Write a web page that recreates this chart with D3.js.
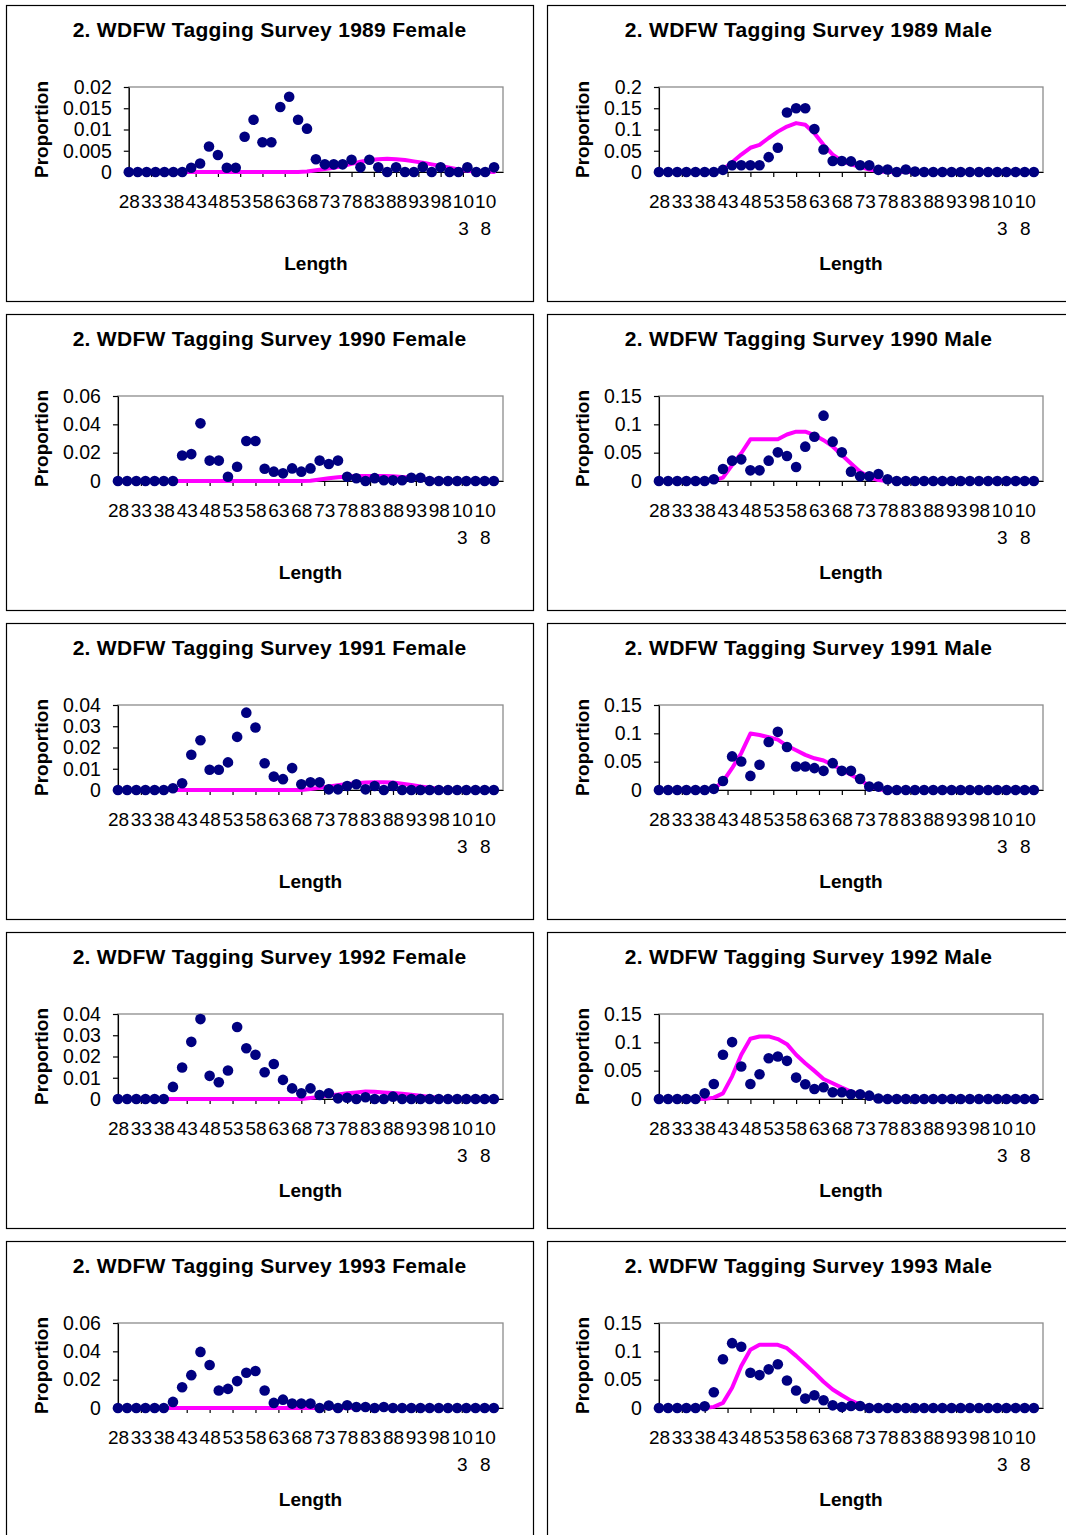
<!DOCTYPE html>
<html>
<head>
<meta charset="utf-8">
<script src="https://cdn.jsdelivr.net/npm/d3@7"></script>
<style>
  body { margin: 0; background: #fff; }
  svg { display: block; }
  text { font-family: "Liberation Sans", Arial, Helvetica, sans-serif; fill: #000; }
</style>
</head>
<body>
<svg id="chart" width="1066" height="1535"></svg>
<script>
// Length classes (cm) at which proportions were recorded
const lengths = [28,30,32,34,36,38,40,42,44,46,48,50,52,54,56,58,60,62,64,66,68,70,72,74,76,78,80,82,84,86,88,90,92,94,96,98,100,102,104,106,108,110];

// Category labels shown along the length axis
const lengthTickLabels = ["28","33","38","43","48","53","58","63","68","73","78","83","88","93","98","103","108"];

// Proportion axis labels
const yTicksF1989 = ["0","0.005","0.01","0.015","0.02"];
const yTicksM1989 = ["0","0.05","0.1","0.15","0.2"];
const yTicksF1990 = ["0","0.02","0.04","0.06"];
const yTicksF1991 = ["0","0.01","0.02","0.03","0.04"];
const yTicksMale = ["0","0.05","0.1","0.15"];

// Observed proportions (dots) and model fits (line)
const obsF1989 = [0,0,0,0,0,0,0,0.001,0.002,0.006,0.004,0.001,0.001,0.0083,0.0123,0.007,0.007,0.0153,0.0177,0.0123,0.0102,0.003,0.0018,0.0018,0.0018,0.0029,0.0011,0.0029,0.0011,0,0.0011,0,0,0.0012,0,0.0011,0,0,0.0011,0,0,0.0011];
const fitF1989 = [0,0,0,0,0,0,0,0,0,0,0,0,0,0,0,0,0,0,0,0,0.0001,0.0004,0.0007,0.001,0.0014,0.0019,0.0024,0.0028,0.003,0.0031,0.003,0.0028,0.0025,0.0022,0.0018,0.0014,0.001,0.0006,0.0003,0.0002,0.0001,0];

const obsM1989 = [0,0,0,0,0,0,0,0.005,0.016,0.016,0.016,0.016,0.035,0.057,0.14,0.15,0.15,0.101,0.053,0.026,0.026,0.025,0.016,0.016,0.005,0.006,0,0.006,0.001,0,0,0,0,0,0,0,0,0,0,0,0,0];
const fitM1989 = [0,0,0,0,0,0,0.001,0.006,0.023,0.041,0.057,0.064,0.08,0.095,0.107,0.115,0.111,0.091,0.064,0.041,0.026,0.018,0.012,0.006,0.002,0,0,0,0,0,0,0,0,0,0,0,0,0,0,0,0,0];

const obsF1990 = [0,0,0,0,0,0,0,0.018,0.019,0.0407,0.0144,0.0144,0.003,0.0101,0.0282,0.0282,0.0087,0.0066,0.0054,0.0089,0.0066,0.0089,0.0144,0.012,0.0144,0.003,0.0019,0,0.002,0.0005,0.0005,0.0005,0.0023,0.0023,0,0,0,0,0,0,0,0];
const fitF1990 = [0,0,0,0,0,0,0,0,0,0,0,0,0,0,0,0,0,0,0,0,0,0.0002,0.001,0.0019,0.0027,0.0032,0.0035,0.0036,0.0036,0.0035,0.0033,0.0029,0.0023,0.0017,0.0011,0.0006,0.0003,0.0001,0,0,0,0];

const obsM1990 = [0,0,0,0,0,0,0.003,0.0212,0.0359,0.0382,0.0188,0.0188,0.0359,0.0506,0.0441,0.0247,0.0606,0.0782,0.1153,0.0694,0.0506,0.0165,0.0082,0.0082,0.0124,0.003,0,0,0,0,0,0,0,0,0,0,0,0,0,0,0,0];
const fitM1990 = [0,0,0,0,0,0,0.001,0.006,0.028,0.049,0.0735,0.0735,0.0735,0.0735,0.082,0.087,0.087,0.081,0.072,0.061,0.046,0.031,0.0165,0.0065,0.0018,0,0,0,0,0,0,0,0,0,0,0,0,0,0,0,0,0];

const obsF1991 = [0,0,0,0,0,0,0.0008,0.0032,0.0166,0.0234,0.0095,0.0095,0.013,0.025,0.0364,0.0294,0.0126,0.0063,0.0051,0.0103,0.0027,0.0036,0.0036,0.0003,0.0003,0.0019,0.0027,0.0003,0.0019,0,0.0019,0,0,0,0,0,0,0,0,0,0,0];
const fitF1991 = [0,0,0,0,0,0,0,0,0,0,0,0,0,0,0,0,0,0,0,0,0,0.0005,0.001,0.0016,0.0022,0.0028,0.0032,0.0035,0.0036,0.0036,0.0035,0.003,0.0024,0.0017,0.0011,0.0006,0.0003,0.0001,0,0,0,0];

const obsM1991 = [0,0,0,0,0,0,0.002,0.016,0.0593,0.0504,0.0249,0.0445,0.0848,0.1026,0.0759,0.0415,0.0415,0.0386,0.0338,0.0474,0.0338,0.0338,0.0196,0.006,0.006,0,0,0,0,0,0,0,0,0,0,0,0,0,0,0,0,0];
const fitM1991 = [0,0,0,0,0,0,0.002,0.015,0.0385,0.065,0.0996,0.097,0.093,0.089,0.078,0.07,0.062,0.056,0.052,0.044,0.0356,0.0267,0.0178,0.007,0.001,0,0,0,0,0,0,0,0,0,0,0,0,0,0,0,0,0];

const obsF1992 = [0,0,0,0,0,0,0.0057,0.0148,0.0269,0.0376,0.0109,0.0079,0.0134,0.0339,0.0239,0.0208,0.0126,0.0165,0.009,0.005,0.0027,0.005,0.0019,0.0027,0.0003,0.0006,0,0.0008,0,0,0.0011,0,0,0,0,0,0,0,0,0,0,0];
const fitF1992 = [0,0,0,0,0,0,0,0,0,0,0,0,0,0,0,0,0,0,0,0,0,0.0005,0.001,0.0016,0.0021,0.0027,0.0031,0.0035,0.0034,0.0031,0.0028,0.0025,0.002,0.0015,0.001,0.0006,0.0003,0.0001,0,0,0,0];

const obsM1992 = [0,0,0,0,0,0.01,0.0266,0.078,0.1004,0.0573,0.0266,0.0437,0.072,0.075,0.0673,0.0378,0.026,0.0177,0.0207,0.0118,0.0118,0.0083,0.0083,0.0059,0.001,0,0,0,0,0,0,0,0,0,0,0,0,0,0,0,0,0];
const fitM1992 = [0,0,0,0,0,0,0.0024,0.01,0.04,0.078,0.1063,0.1104,0.1104,0.1057,0.0968,0.078,0.0632,0.0496,0.0354,0.0277,0.02,0.013,0.0083,0.0041,0.0012,0,0,0,0,0,0,0,0,0,0,0,0,0,0,0,0,0];

const obsF1993 = [0,0,0,0,0,0,0.0043,0.0147,0.0232,0.0396,0.0304,0.0123,0.0135,0.019,0.0249,0.0261,0.0123,0.0036,0.0059,0.0031,0.0031,0.0031,0,0.0017,0,0.0019,0.0007,0.0007,0,0.0007,0,0,0,0,0,0,0,0,0,0,0,0];
const fitF1993 = [0,0,0,0,0,0,0,0,0,0,0,0,0,0,0,0,0,0,0,0,0,0,0,0,0,0,0,0,0,0,0,0,0,0,0,0,0,0,0,0,0,0];

const obsM1993 = [0,0,0,0,0,0.003,0.0279,0.086,0.1144,0.108,0.0623,0.0581,0.0682,0.0771,0.0486,0.0308,0.0166,0.0225,0.0136,0.0047,0.0018,0.0036,0.0036,0,0,0,0,0,0,0,0,0,0,0,0,0,0,0,0,0,0,0];
const fitM1993 = [0,0,0,0,0,0,0.002,0.009,0.0356,0.0741,0.1026,0.1115,0.1115,0.1115,0.1056,0.092,0.0771,0.0623,0.0463,0.0326,0.0225,0.013,0.0059,0.0012,0,0,0,0,0,0,0,0,0,0,0,0,0,0,0,0,0,0];

const panels = [
  { title: "2. WDFW Tagging Survey 1989 Female", obs: obsF1989, fit: fitF1989, yTicks: yTicksF1989, row: 0, col: 0 },
  { title: "2. WDFW Tagging Survey 1989 Male",   obs: obsM1989, fit: fitM1989, yTicks: yTicksM1989, row: 0, col: 1 },
  { title: "2. WDFW Tagging Survey 1990 Female", obs: obsF1990, fit: fitF1990, yTicks: yTicksF1990, row: 1, col: 0 },
  { title: "2. WDFW Tagging Survey 1990 Male",   obs: obsM1990, fit: fitM1990, yTicks: yTicksMale,  row: 1, col: 1 },
  { title: "2. WDFW Tagging Survey 1991 Female", obs: obsF1991, fit: fitF1991, yTicks: yTicksF1991, row: 2, col: 0 },
  { title: "2. WDFW Tagging Survey 1991 Male",   obs: obsM1991, fit: fitM1991, yTicks: yTicksMale,  row: 2, col: 1 },
  { title: "2. WDFW Tagging Survey 1992 Female", obs: obsF1992, fit: fitF1992, yTicks: yTicksF1991, row: 3, col: 0 },
  { title: "2. WDFW Tagging Survey 1992 Male",   obs: obsM1992, fit: fitM1992, yTicks: yTicksMale,  row: 3, col: 1 },
  { title: "2. WDFW Tagging Survey 1993 Female", obs: obsF1993, fit: fitF1993, yTicks: yTicksF1990, row: 4, col: 0 },
  { title: "2. WDFW Tagging Survey 1993 Male",   obs: obsM1993, fit: fitM1993, yTicks: yTicksMale,  row: 4, col: 1 }
];

// Layout of the panel grid
const colX = [6, 547];
const colW = [527, 523];
const rowTop = 5, rowPitch = 309, panelH = 296;
const plotTopOff = 82, plotBottomOff = 167;
const plotRightOff = [497, 496];
const xTickFont = 19;
const yTickFont = 19.5;

const svg = d3.select("#chart");

// Helper to measure text width at a given font size
const measurer = svg.append("text").attr("visibility", "hidden");
function textWidth(s, size) {
  measurer.attr("font-size", size).text(s);
  return measurer.node().getComputedTextLength();
}

panels.forEach(p => {
  const px = colX[p.col], py = rowTop + p.row * rowPitch;
  const pw = colW[p.col];
  const g = svg.append("g");

  // panel frame
  g.append("rect")
    .attr("x", px + 0.5).attr("y", py + 0.5)
    .attr("width", pw).attr("height", panelH)
    .attr("fill", "#fff").attr("stroke", "#000").attr("stroke-width", 1.2);

  // plot area bounds: left edge depends on the widest proportion label
  const maxLabelW = d3.max(p.yTicks, t => textWidth(t, yTickFont));
  const left = px + 57 + maxLabelW + 17;
  const right = px + plotRightOff[p.col];
  const top = py + plotTopOff, bottom = py + plotBottomOff;

  const x = d3.scaleLinear().domain([28, 112]).range([left, right]);
  const yVals = p.yTicks.map(Number);
  const y = d3.scaleLinear().domain([0, d3.max(yVals)]).range([bottom, top]);

  // title
  g.append("text")
    .attr("x", px + pw / 2).attr("y", py + 24)
    .attr("text-anchor", "middle").attr("dominant-baseline", "central")
    .attr("font-size", 21).attr("font-weight", "bold").attr("letter-spacing", 0.3)
    .text(p.title);

  // plot border (top & right in grey)
  g.append("rect")
    .attr("x", left).attr("y", top)
    .attr("width", right - left).attr("height", bottom - top)
    .attr("fill", "none").attr("stroke", "#8c8c8c").attr("stroke-width", 1.3);

  // y axis
  const yAxis = d3.axisLeft(y)
    .tickValues(yVals)
    .tickFormat((d, i) => p.yTicks[i])
    .tickSize(5).tickSizeOuter(0).tickPadding(12);
  const yg = g.append("g").attr("transform", `translate(${left},0)`).call(yAxis);
  yg.selectAll("text").attr("font-size", yTickFont).attr("font-family", null).attr("fill", "#000");
  yg.selectAll("line, path").attr("stroke", "#000").attr("stroke-width", 1.2);

  // x axis
  const xVals = lengthTickLabels.map(Number);
  const spacing = x(33) - x(28);
  const xAxis = d3.axisBottom(x)
    .tickValues(xVals)
    .tickFormat("")
    .tickSize(5).tickSizeOuter(0);
  const xg = g.append("g").attr("transform", `translate(0,${bottom})`).call(xAxis);
  xg.selectAll("line, path").attr("stroke", "#000").attr("stroke-width", 1.2);

  // category labels, wrapped onto a second line when wider than their slot
  xg.selectAll(".tick").each(function (d, i) {
    const label = lengthTickLabels[i];
    const t = d3.select(this).append("text")
      .attr("font-size", xTickFont).attr("text-anchor", "middle")
      .attr("y", 36).attr("fill", "#000");
    if (textWidth(label, xTickFont) > spacing + 0.5) {
      t.append("tspan").attr("x", 0).text(label.slice(0, 2));
      t.append("tspan").attr("x", 0).attr("dy", 27).text(label.slice(2));
    } else {
      t.text(label);
    }
  });

  // axis titles
  g.append("text")
    .attr("x", (left + right) / 2).attr("y", py + 258)
    .attr("text-anchor", "middle").attr("dominant-baseline", "central")
    .attr("font-size", 19).attr("font-weight", "bold")
    .text("Length");
  g.append("text")
    .attr("transform", `translate(${px + 35},${(top + bottom) / 2}) rotate(-90)`)
    .attr("text-anchor", "middle").attr("dominant-baseline", "central")
    .attr("font-size", 19).attr("font-weight", "bold")
    .text("Proportion");

  // fitted line
  const line = d3.line()
    .x((d, i) => x(lengths[i]))
    .y(d => y(d));
  g.append("path")
    .datum(p.fit)
    .attr("d", line)
    .attr("fill", "none").attr("stroke", "#ff00ff")
    .attr("stroke-width", 4).attr("stroke-linejoin", "round").attr("stroke-linecap", "round");

  // observed points
  g.append("g").selectAll("circle")
    .data(p.obs)
    .join("circle")
    .attr("cx", (d, i) => x(lengths[i]))
    .attr("cy", d => y(d))
    .attr("r", 5.3)
    .attr("fill", "#000080");
});

measurer.remove();
</script>
</body>
</html>
